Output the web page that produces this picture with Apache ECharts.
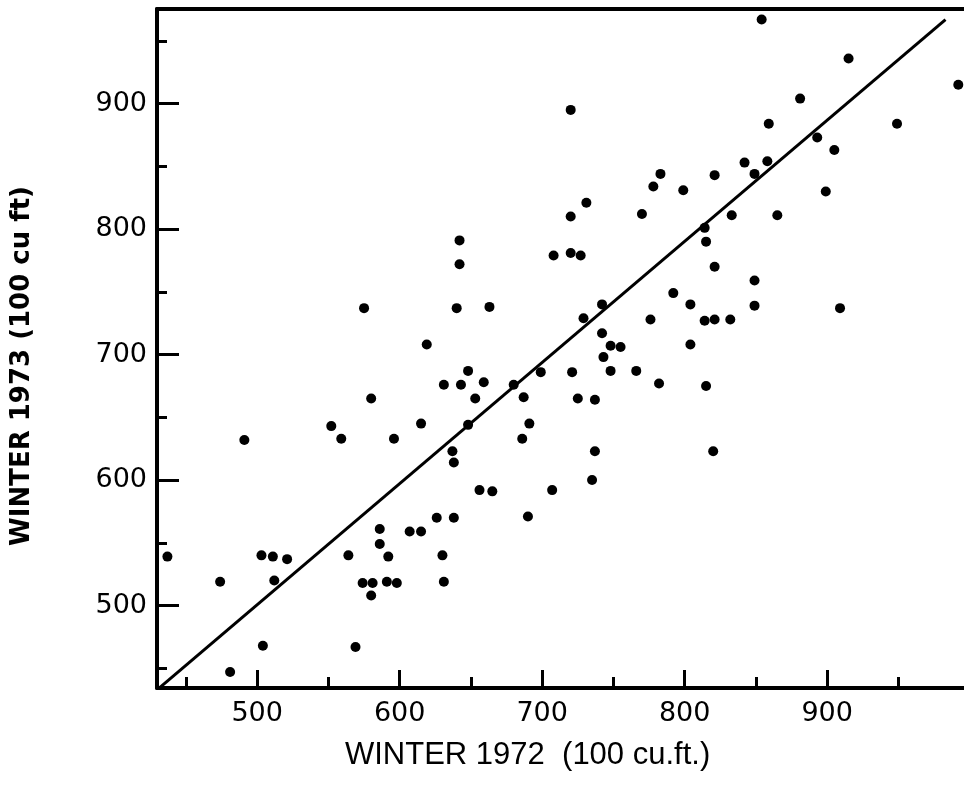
<!DOCTYPE html>
<html>
<head>
<meta charset="utf-8">
<script src="https://cdn.jsdelivr.net/npm/echarts@6/dist/echarts.min.js"></script>
<style>
  html, body { margin: 0; padding: 0; background: #fff; }
  #chart { width: 964px; height: 788px; }
</style>
</head>
<body>
<div id="chart"></div>
<script>
// Data
const winter1972 = [720,783,778,799,731,720,770,642,642,854,915,992,881,859,949,893,905,842,858,821,849,899,833,865,814,815,821,849,804,849,909,814,821,832,804,815,820,708,720,727,640,663,742,792,729,776,619,742,748,755,743,699,721,748,766,648,659,631,643,782,680,653,687,725,737,615,648,691,686,737,637,638,575,580,552,491,559,596,437,474,503,511,521,512,564,586,586,592,607,615,574,581,580,591,598,504,569,481,656,665,707,735,626,638,690,630,631];
const winter1973 = [895,844,834,831,821,810,812,791,772,967,936,915,904,884,884,873,863,853,854,843,844,830,811,811,801,790,770,759,740,739,737,727,728,728,708,675,623,779,781,779,737,738,740,749,729,728,708,717,707,706,698,686,686,687,687,687,678,676,676,677,676,665,666,665,664,645,644,645,633,623,623,614,737,665,643,632,633,633,539,519,540,539,537,520,540,561,549,539,559,559,518,518,508,519,518,468,467,447,592,591,592,600,570,570,571,540,519];
const fitLineX = [432, 983];
const fitLineY = [435, 967];
const xMajorTicks = [500, 600, 700, 800, 900];
const xMinorTicks = [450, 550, 650, 750, 850, 950];
const yMajorTicks = [500, 600, 700, 800, 900];
const yMinorTicks = [450, 550, 650, 750, 850, 950];
const xRange = [429.7, 996];
const yRange = [434.3, 975.4];

const points = winter1972.map((x, i) => [x, winter1973[i]]);
const linePts = fitLineX.map((x, i) => [x, fitLineY[i]]);

const chart = echarts.init(document.getElementById('chart'), null, { renderer: 'canvas' });
const labelFont = { color: '#000', fontFamily: 'DejaVu Sans', fontSize: 27 };

chart.setOption({
  animation: false,
  backgroundColor: '#fff',
  grid: { left: 157, right: 0, top: 9, bottom: 100 },
  xAxis: [
    {
      type: 'value', position: 'bottom', min: xRange[0], max: xRange[1],
      axisLine: { show: true, onZero: false, lineStyle: { color: '#000', width: 4 } },
      axisTick: { show: true, inside: true, length: 18, customValues: xMajorTicks, lineStyle: { color: '#000', width: 3 } },
      axisLabel: Object.assign({ show: true, margin: 12, customValues: xMajorTicks }, labelFont),
      splitLine: { show: false }
    },
    {
      type: 'value', position: 'bottom', min: xRange[0], max: xRange[1],
      axisLine: { show: false },
      axisTick: { show: true, inside: true, length: 11, customValues: xMinorTicks, lineStyle: { color: '#000', width: 3 } },
      axisLabel: { show: false },
      splitLine: { show: false }
    },
    {
      type: 'value', position: 'top', min: xRange[0], max: xRange[1],
      axisLine: { show: true, onZero: false, lineStyle: { color: '#000', width: 4 } },
      axisTick: { show: false }, axisLabel: { show: false }, splitLine: { show: false }
    }
  ],
  yAxis: [
    {
      type: 'value', position: 'left', min: yRange[0], max: yRange[1],
      axisLine: { show: true, onZero: false, lineStyle: { color: '#000', width: 4 } },
      axisTick: { show: true, inside: true, length: 22, customValues: yMajorTicks, lineStyle: { color: '#000', width: 3 } },
      axisLabel: Object.assign({ show: true, margin: 10, customValues: yMajorTicks }, labelFont),
      splitLine: { show: false }
    },
    {
      type: 'value', position: 'left', min: yRange[0], max: yRange[1],
      axisLine: { show: false },
      axisTick: { show: true, inside: true, length: 10, customValues: yMinorTicks, lineStyle: { color: '#000', width: 3 } },
      axisLabel: { show: false },
      splitLine: { show: false }
    }
  ],
  graphic: [
    {
      type: 'text', left: 345, top: 740,
      style: { text: 'WINTER 1972  (100 cu.ft.)', fill: '#000', font: '31px "Liberation Sans"' }
    },
    {
      type: 'text', x: 22, y: 366, rotation: Math.PI / 2,
      style: { text: 'WINTER 1973 (100 cu ft)', fill: '#000', font: 'bold 26px "DejaVu Sans"', align: 'center', verticalAlign: 'middle' }
    }
  ],
  series: [
    {
      type: 'line', xAxisIndex: 0, yAxisIndex: 0, data: linePts,
      symbol: 'none', lineStyle: { color: '#000', width: 3 }, silent: true
    },
    {
      type: 'scatter', xAxisIndex: 0, yAxisIndex: 0, data: points,
      symbol: 'circle', symbolSize: 10, itemStyle: { color: '#000', opacity: 1 }, silent: true
    }
  ]
});
</script>
</body>
</html>
